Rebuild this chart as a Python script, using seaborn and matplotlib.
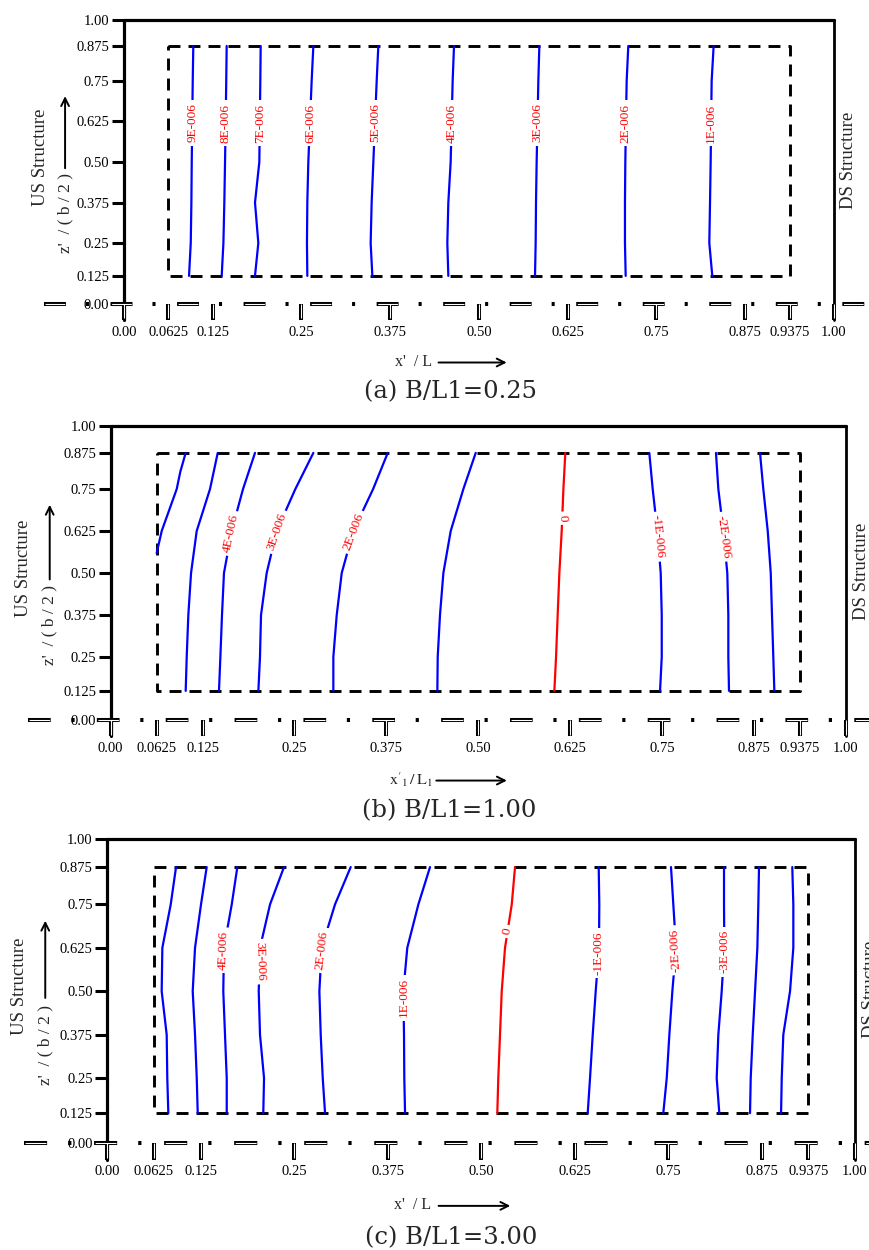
import numpy as np
import matplotlib
matplotlib.use("Agg")
import matplotlib.pyplot as plt
import seaborn as sns

z_levels = [0.125, 0.25, 0.375, 0.5, 0.625, 0.75, 0.875]

x_ticks = [0.0, 0.0625, 0.125, 0.25, 0.375, 0.5, 0.625, 0.75, 0.875, 0.9375, 1.0]
x_ticklabels = ['0.00', '0.0625', '0.125', '0.25', '0.375', '0.50', '0.625',
                '0.75', '0.875', '0.9375', '1.00']
z_ticks = [0.0, 0.125, 0.25, 0.375, 0.5, 0.625, 0.75, 0.875, 1.0]
z_ticklabels = ['0.00', '0.125', '0.25', '0.375', '0.50', '0.625', '0.75', '0.875', '1.00']
# the vertical axis of the original is stretched: where each tick sits (fraction of height)
z_tick_pos = [0.0, 0.099, 0.2145, 0.357, 0.5, 0.643, 0.7855, 0.9085, 1.0]

# dashed box of the domain
box_x = [0.0625, 0.9375, 0.9375, 0.0625, 0.0625]
box_z = [0.875, 0.875, 0.125, 0.125, 0.875]

# ---------------- (a) B/L1 = 0.25 ----------------
a_lines = [
    [0.0916, 0.0940, 0.0949, 0.0954, 0.0961, 0.0968, 0.0976],
    [0.1376, 0.1400, 0.1413, 0.1423, 0.1432, 0.1440, 0.1446],
    [0.1845, 0.1892, 0.1845, 0.1906, 0.1913, 0.1920, 0.1925],
    [0.2582, 0.2577, 0.2582, 0.2596, 0.2620, 0.2643, 0.2667],
    [0.3498, 0.3474, 0.3488, 0.3512, 0.3535, 0.3559, 0.3582],
    [0.4568, 0.4554, 0.4568, 0.4601, 0.4615, 0.4629, 0.4648],
    [0.5789, 0.5798, 0.5803, 0.5812, 0.5824, 0.5836, 0.5850],
    [0.7066, 0.7056, 0.7056, 0.7061, 0.7070, 0.7080, 0.7103],
    [0.8286, 0.8244, 0.8254, 0.8263, 0.8270, 0.8277, 0.8305],
]
a_texts = ['9E-006', '8E-006', '7E-006', '6E-006', '5E-006', '4E-006', '3E-006', '2E-006', '1E-006']
a_label_z = [0.62] * 9
a_rot = [90] * 9

# ---------------- (b) B/L1 = 1.00 ----------------
b_edge_x = [0.0625, 0.0694, 0.0898, 0.0947, 0.1020]
b_edge_z = [0.559, 0.625, 0.75, 0.81, 0.875]
b_lines = [
    [0.1020, 0.1034, 0.1056, 0.1093, 0.1170, 0.1351, 0.1456],
    [0.1473, 0.1492, 0.1514, 0.1541, 0.1646, 0.1800, 0.1963],
    [0.2009, 0.2031, 0.2045, 0.2122, 0.2259, 0.2512, 0.2757],
    [0.3029, 0.3029, 0.3075, 0.3143, 0.3301, 0.3570, 0.3769],
    [0.4444, 0.4449, 0.4480, 0.4526, 0.4626, 0.4798, 0.4966],
    [0.6036, 0.6059, 0.6081, 0.6104, 0.6136, 0.6159, 0.6185],
    [0.7474, 0.7497, 0.7497, 0.7483, 0.7437, 0.7374, 0.7328],
    [0.8412, 0.8403, 0.8403, 0.8389, 0.8335, 0.8267, 0.8235],
    [0.9029, 0.9015, 0.8997, 0.8980, 0.8939, 0.8879, 0.8834],
]
b_texts = ['', '4E-006', '3E-006', '2E-006', '', '0', '-1E-006', '-2E-006', '']
b_label_z = [0, 0.618, 0.623, 0.623, 0, 0.663, 0.608, 0.608, 0]
b_rot = [0, 78, 71, 69, 0, -87, -84, -82, 0]

# ---------------- (c) B/L1 = 3.00 ----------------
c_lines = [
    [0.0816, 0.0802, 0.0794, 0.0727, 0.0736, 0.0848, 0.0919],
    [0.1209, 0.1196, 0.1173, 0.1142, 0.1173, 0.1253, 0.1329],
    [0.1597, 0.1597, 0.1574, 0.1551, 0.1560, 0.1664, 0.1739],
    [0.2086, 0.2096, 0.2042, 0.2025, 0.2042, 0.2176, 0.2363],
    [0.2912, 0.2881, 0.2854, 0.2836, 0.2867, 0.3045, 0.3255],
    [0.3982, 0.3972, 0.3968, 0.3959, 0.4012, 0.4160, 0.4316],
    [0.5216, 0.5229, 0.5252, 0.5275, 0.5319, 0.5409, 0.5453],
    [0.6425, 0.6456, 0.6492, 0.6532, 0.6576, 0.6580, 0.6572],
    [0.7436, 0.7482, 0.7517, 0.7557, 0.7606, 0.7570, 0.7539],
    [0.8185, 0.8150, 0.8172, 0.8217, 0.8252, 0.8248, 0.8248],
    [0.8596, 0.8605, 0.8632, 0.8663, 0.8694, 0.8707, 0.8716],
    [0.9011, 0.9020, 0.9041, 0.9131, 0.9175, 0.9175, 0.9161],
]
c_texts = ['', '', '4E-006', '3E-006', '2E-006', '1E-006', '0', '-1E-006', '-2E-006', '-3E-006', '', '']
c_label_z = [0, 0, 0.618, 0.585, 0.618, 0.481, 0.672, 0.609, 0.618, 0.614, 0, 0]
c_rot = [0, 0, 88, -88, 83, 90, 79, 90, 93, 90, 0, 0]

sns.set_theme(style='white')
plt.rcParams['font.family'] = ['Liberation Serif', 'DejaVu Serif']
plt.rcParams['mathtext.fontset'] = 'stix'
plt.rcParams['lines.scale_dashes'] = False

ext_z = [-1.0] + z_ticks + [2.0]
ext_p = [-0.79] + z_tick_pos + [1.79]


def fwd(z):
    return np.interp(z, ext_z, ext_p)


def inv(p):
    return np.interp(p, ext_p, ext_z)


fig = plt.figure(figsize=(8.69, 12.5), dpi=100)


def draw_panel(rect, lines, texts, label_z, rots, xlabel, caption, s):
    ax = fig.add_axes(rect)
    ax.set_yscale('function', functions=(fwd, inv))

    for xs, txt, zl, rot in zip(lines, texts, label_z, rots):
        col = '#ff0000' if txt == '0' else '#0000ff'
        sns.lineplot(x=xs, y=z_levels, sort=False, estimator=None, color=col,
                     linewidth=1.6, ax=ax, zorder=3)
        if txt:
            ax.text(np.interp(zl, z_levels, xs), zl, txt, rotation=rot,
                    rotation_mode='anchor', ha='center', va='center',
                    color='#ff0000', fontsize=9.5, zorder=4,
                    bbox=dict(boxstyle='square,pad=0.25', fc='white', ec='none'))

    # dashed domain box
    ax.plot(box_x, box_z, color='black', lw=2.1, dashes=(8.6, 5.8), zorder=2)

    ax.set_xlim(0, 1)
    ax.set_ylim(0, 1)
    ax.autoscale(False)
    for sp in ax.spines.values():
        sp.set_visible(False)

    tr = ax.get_xaxis_transform()
    # frame
    ax.plot([0, 1], [1, 1], transform=tr, color='black', lw=2.3, clip_on=False, zorder=5)
    ax.plot([0, 0], [-0.056, 1], transform=tr, color='black', lw=2.3, clip_on=False, zorder=5)
    ax.plot([1, 1], [-0.056, 1], transform=tr, color='black', lw=2.0, clip_on=False, zorder=5)

    # centre line (dash-dot, dashes drawn hollow, dots solid)
    period = (15.8 + 14.4 + 2.2 + 15.5) * s
    ax.plot([-0.112, 1.05], [0, 0], transform=tr, color='black', lw=2.9,
            ls=(0, (15.8 * s, 14.4 * s, 2.2 * s, 15.5 * s)), clip_on=False, zorder=6)
    ax.plot([-0.112, 1.05], [0, 0], transform=tr, color='white', lw=0.8,
            ls=(period - 0.8, (15.8 * s - 1.6, period - 15.8 * s + 1.6)),
            clip_on=False, zorder=7)

    # hollow x ticks
    ax.vlines(x_ticks, -0.056, 0, transform=tr, colors='black', lw=2.9, clip_on=False, zorder=6)
    ax.vlines(x_ticks, -0.05, 0, transform=tr, colors='white', lw=0.8, clip_on=False, zorder=7)

    ax.set_xticks(x_ticks, x_ticklabels)
    ax.set_yticks(z_ticks, z_ticklabels)
    ax.yaxis.set_minor_locator(matplotlib.ticker.NullLocator())
    ax.tick_params(axis='x', bottom=True, length=0, pad=15.5, labelsize=10.5, colors='black')
    ax.tick_params(axis='y', left=True, direction='out', length=8.5, width=2.2,
                   pad=2, labelsize=10.5, colors='black')
    ax.set_xlabel('')
    ax.set_ylabel('')

    ax.text(-0.118, 0.515, 'US Structure', transform=ax.transAxes, rotation=90,
            ha='center', va='center', fontsize=13.5)
    ax.text(-0.083, 0.322, "z'  / ( b / 2 )", transform=ax.transAxes, rotation=90,
            ha='center', va='center', fontsize=12.5)
    ax.annotate('', xy=(-0.083, 0.732), xytext=(-0.083, 0.478), xycoords='axes fraction',
                arrowprops=dict(arrowstyle='->', lw=1.4, color='black',
                                shrinkA=0, shrinkB=0, mutation_scale=14))
    ax.text(1.021, 0.507, 'DS Structure', transform=ax.transAxes, rotation=90,
            ha='center', va='center', fontsize=13.5)

    ax.text(0.408, -0.204, xlabel, transform=ax.transAxes, ha='center', va='center',
            fontsize=11.5)
    ax.annotate('', xy=(0.539, -0.206), xytext=(0.443, -0.206), xycoords='axes fraction',
                arrowprops=dict(arrowstyle='->', lw=1.4, color='black',
                                shrinkA=0, shrinkB=0, mutation_scale=14))
    ax.text(0.46, -0.31, caption, transform=ax.transAxes, ha='center', va='center',
            fontsize=17.5, family='DejaVu Serif')
    return ax


ax_a = draw_panel([0.1427, 0.7568, 0.8170, 0.2272], a_lines, a_texts, a_label_z, a_rot,
                  "x'  / L", '(a) B/L1=0.25', 1.0)
ax_b = draw_panel([0.1274, 0.4240, 0.8458, 0.2352], b_lines, b_texts, b_label_z, b_rot,
                  r"$\mathrm{x}'_{1}\,/\,\mathrm{L}_{1}$", '(b) B/L1=1.00', 1.035)
sns.lineplot(x=b_edge_x, y=b_edge_z, sort=False, estimator=None, color='#0000ff',
             linewidth=1.6, ax=ax_b, zorder=3)
ax_b.set_xlim(0, 1)
ax_b.set_ylim(0, 1)
ax_c = draw_panel([0.1235, 0.0854, 0.8604, 0.2432], c_lines, c_texts, c_label_z, c_rot,
                  "x'  / L", '(c) B/L1=3.00', 1.053)

fig.savefig('out.png', dpi=100, facecolor='white')
